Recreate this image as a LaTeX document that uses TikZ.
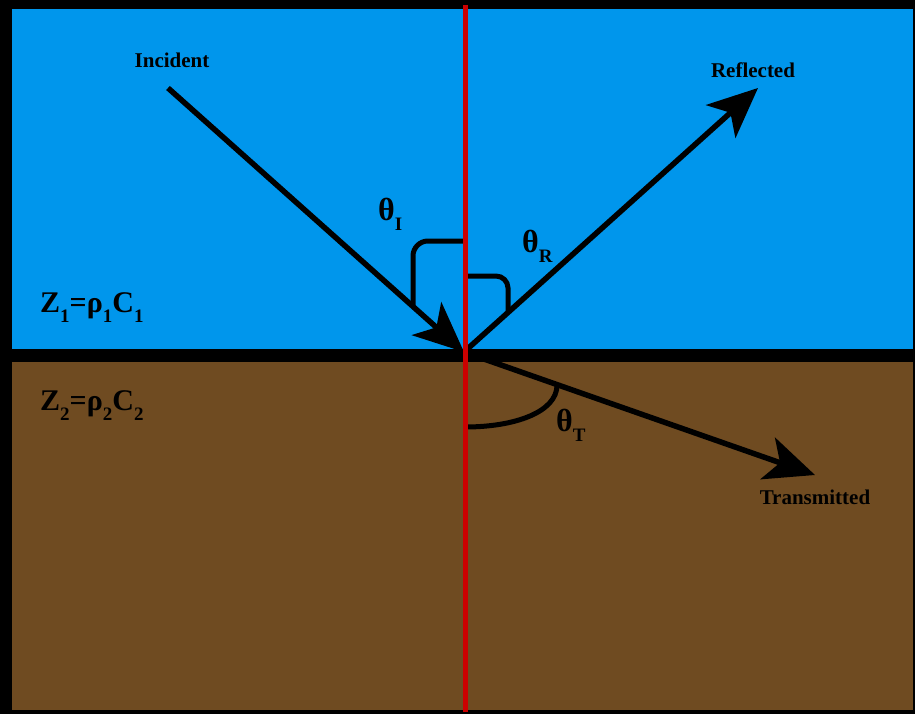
\documentclass[tikz,border=0pt]{standalone}
\usepackage{fontspec}
\setmainfont{Liberation Serif}
\usetikzlibrary{arrows.meta,positioning}
\definecolor{water}{RGB}{0,150,236}
\definecolor{soil}{RGB}{111,75,33}
\definecolor{normalred}{RGB}{204,0,0}
\newcommand{\lowsub}[1]{\raisebox{-10pt}{\fontsize{19}{19}\selectfont #1}}

\begin{document}
\begin{tikzpicture}[x=1pt,y=-1pt,
  ray/.style={line width=5.5pt,-{Stealth[length=50pt,width=44pt,inset=13pt]}},
  angmark/.style={line width=5pt},
  lbl/.style={inner sep=0pt,font=\fontsize{21}{24}\selectfont\bfseries},
  anglbl/.style={inner sep=0pt,anchor=base west,font=\fontsize{32}{36}\selectfont\bfseries},
  zlbl/.style={inner sep=0pt,anchor=base west,font=\fontsize{30}{34}\selectfont\bfseries}]
\fill[black] (0,0) rectangle (915,714);
\fill[water] (12,9) rectangle (913,349);
\fill[soil] (12,362) rectangle (913,710);

\coordinate (P) at (464,352);
\coordinate (I0) at (168,88);
\coordinate (R1) at (758,88);
\coordinate (T1) at (815,475);

\draw[ray] (I0) -- (P);
\draw[ray] (P) -- (R1);
\draw[ray] (P) -- (T1);

\draw[angmark,rounded corners=15pt] (413,306) -- (413,241) -- (465,241);
\draw[angmark,rounded corners=12pt] (465,276) -- (508,276) -- (508,312);
\draw[angmark] (465,427) .. controls (515,427) and (557,412) .. (557,385);

\coordinate (top) at (465.5,5);
\coordinate (bot) at (465.5,712);
\draw[normalred,line width=5pt] (top) -- (bot);

\node[lbl] (inc) at (172,60) {Incident};
\node[lbl] (refl) at (753,70) {Reflected};
\node[lbl] (trans) at (815,497) {Transmitted};

\node[anglbl] (thI) at (378,220) {θ\lowsub{I}};
\node[anglbl] (thR) at (522,252) {θ\lowsub{R}};
\node[anglbl] (thT) at (556,431) {θ\lowsub{T}};

\node[zlbl] (z1) at (40,312) {Z\lowsub{1}=ρ\lowsub{1}C\lowsub{1}};
\node[zlbl] (z2) at (40,410) {Z\lowsub{2}=ρ\lowsub{2}C\lowsub{2}};
\end{tikzpicture}
\end{document}
